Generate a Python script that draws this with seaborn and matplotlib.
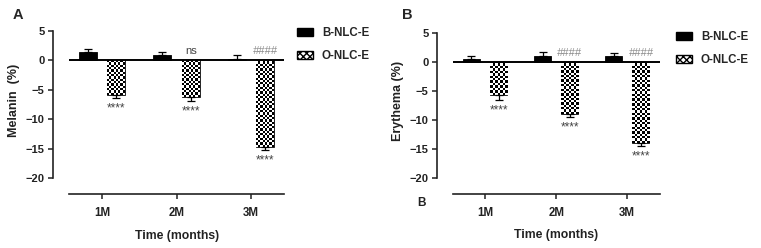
import numpy as np
import pandas as pd
import matplotlib
matplotlib.use('Agg')
import matplotlib.pyplot as plt
import seaborn as sns
from matplotlib.patches import Patch

months = ['1M', '2M', '3M']
groups = ['B-NLC-E', 'O-NLC-E']

melanin_b = [1.4, 1.0, 0.3]
melanin_b_sd = [0.5, 0.4, 0.6]
melanin_o = [-5.8, -6.2, -14.8]
melanin_o_sd = [0.6, 0.7, 0.5]

erythema_b = [0.5, 1.1, 1.1]
erythema_b_sd = [0.5, 0.6, 0.5]
erythema_o = [-5.7, -9.0, -14.0]
erythema_o_sd = [0.85, 0.5, 0.45]

melanin_top = ['', 'ns', '####']
erythema_top = ['', '####', '####']
stars = ['****', '****', '****']

sns.set_style('ticks')
plt.rcParams['font.family'] = ['Liberation Sans', 'DejaVu Sans']
plt.rcParams['font.weight'] = 'bold'
plt.rcParams['axes.labelweight'] = 'bold'

W, H = 761, 248
fig = plt.figure(figsize=(W / 100, H / 100), dpi=100)


def px_axes(l, r, t, b):
    return fig.add_axes([l / W, 1 - b / H, (r - l) / W, (b - t) / H])


def panel(ax, bvals, bsd, ovals, osd, top_txt, ylabel, xlo, xhi, lead):
    df = pd.DataFrame({
        'month': months * 2,
        'group': [groups[0]] * 3 + [groups[1]] * 3,
        'value': bvals + ovals,
    })
    sns.barplot(data=df, x='month', y='value', hue='group', hue_order=groups,
                palette=['black', 'white'], width=0.76, gap=0.37,
                errorbar=None, legend=False, ax=ax, edgecolor='black',
                linewidth=0.6, zorder=2)
    ax.set_xlim(xlo - lead, xhi)
    ax.set_ylim(-20, 5)

    # one-sided error bars, pointing away from zero
    for cont, sd in zip(ax.containers, [bsd, osd]):
        xs, ys, lo, hi = [], [], [], []
        for bar, s in zip(cont.patches, sd):
            v = bar.get_height()
            xs.append(bar.get_x() + bar.get_width() / 2)
            ys.append(v)
            lo.append(s if v < 0 else 0)
            hi.append(s if v >= 0 else 0)
        ax.errorbar(xs, ys, yerr=[lo, hi], fmt='none', ecolor='black',
                    elinewidth=0.9, capsize=3.2, capthick=0.9, zorder=3)

    # checker fill for second group
    for bar in ax.containers[1].patches:
        x0, w = bar.get_x(), bar.get_width()
        y0, h = bar.get_y(), bar.get_height()
        p0 = ax.transData.transform((x0, y0))
        p1 = ax.transData.transform((x0 + w, y0 + h))
        nx = max(1, int(round(abs(p1[0] - p0[0]) / 2.3)))
        ny = max(1, int(round(abs(p1[1] - p0[1]) / 2.3)))
        chk = np.indices((ny, nx)).sum(axis=0) % 2
        im = ax.imshow(chk, cmap='gray', interpolation='nearest', aspect='auto',
                       extent=(x0, x0 + w, min(y0, y0 + h), max(y0, y0 + h)),
                       zorder=2.5)
        im.set_clip_path(bar)
    ax.set_xlim(xlo - lead, xhi)
    ax.set_ylim(-20, 5)

    ax.hlines(0, xlo, xhi, color='black', lw=1.4, zorder=4)

    for i, bar in enumerate(ax.containers[1].patches):
        cx = bar.get_x() + bar.get_width() / 2
        t = top_txt[i]
        if t == 'ns':
            ax.annotate(t, (cx, 0), xytext=(0, 6.5), textcoords='offset points',
                        ha='center', va='center', fontsize=8, fontweight='normal',
                        color='#444444')
        elif t:
            ax.annotate(t, (cx, 0), xytext=(0, 6.5), textcoords='offset points',
                        ha='center', va='center', fontsize=8, fontweight='normal',
                        color='#8a8a8a', style='italic')
        ybot = bar.get_height() - osd[i]
        ax.annotate(stars[i], (cx, ybot), xytext=(0, -7.5), textcoords='offset points',
                    ha='center', va='center', fontsize=8.5, fontweight='normal',
                    color='#444444')

    sns.despine(ax=ax)
    ax.spines['bottom'].set_position(('outward', 11.5))
    ax.spines['bottom'].set_bounds(xlo, xhi)
    for s in ('left', 'bottom'):
        ax.spines[s].set_linewidth(1.2)
        ax.spines[s].set_color('#222222')
    ax.set_yticks([5, 0, -5, -10, -15, -20])
    ax.tick_params(axis='y', length=3.5, width=1.1, pad=2.5, labelsize=8, colors='#222222')
    ax.tick_params(axis='x', length=3.5, width=1.1, pad=6, labelsize=8.3, colors='#222222')
    for t in ax.get_xticklabels() + ax.get_yticklabels():
        t.set_fontweight('bold')
    ax.set_ylabel(ylabel, fontsize=9, color='#222222')
    ax.set_xlabel('Time (months)', fontsize=8.8, color='#222222')

    handles = [Patch(facecolor='black', edgecolor='black', label=groups[0]),
               Patch(facecolor='white', edgecolor='black', hatch='xxxxx', label=groups[1])]
    return handles


# panel A
axA = px_axes(53, 284, 31, 178)
hA = panel(axA, melanin_b, melanin_b_sd, melanin_o, melanin_o_sd, melanin_top,
           'Melanin  (%)', -0.44, 2.44, 0.215)
axA.yaxis.set_label_coords(-0.145, 0.53)
axA.xaxis.set_label_coords(0.535, -0.355)
axA.legend(handles=hA, loc='upper left', bbox_to_anchor=(297 / W, 1 - 27 / H),
           bbox_transform=fig.transFigure, frameon=False, borderpad=0,
           handlelength=1.4, handleheight=0.6, handletextpad=0.75,
           labelspacing=0.95, borderaxespad=0,
           prop={'size': 8.3, 'weight': 'bold'})

# panel B
axB = px_axes(437, 660, 33, 178)
hB = panel(axB, erythema_b, erythema_b_sd, erythema_o, erythema_o_sd, erythema_top,
           'Erythema (%)', -0.45, 2.46, 0.225)
axB.yaxis.set_label_coords(-0.15, 0.53)
axB.xaxis.set_label_coords(0.536, -0.355)
axB.legend(handles=hB, loc='upper left', bbox_to_anchor=(676 / W, 1 - 31 / H),
           bbox_transform=fig.transFigure, frameon=False, borderpad=0,
           handlelength=1.4, handleheight=0.6, handletextpad=0.75,
           labelspacing=0.95, borderaxespad=0,
           prop={'size': 8.3, 'weight': 'bold'})

fig.text(18 / W, 1 - 15 / H, 'A', fontsize=10.5, fontweight='bold', ha='center', va='center')
fig.text(407 / W, 1 - 15 / H, 'B', fontsize=10.5, fontweight='bold', ha='center', va='center')
fig.text(422 / W, 1 - 203 / H, 'B', fontsize=8.5, fontweight='bold', ha='center', va='center',
         color='#222222')

fig.savefig('out.png', dpi=100)
